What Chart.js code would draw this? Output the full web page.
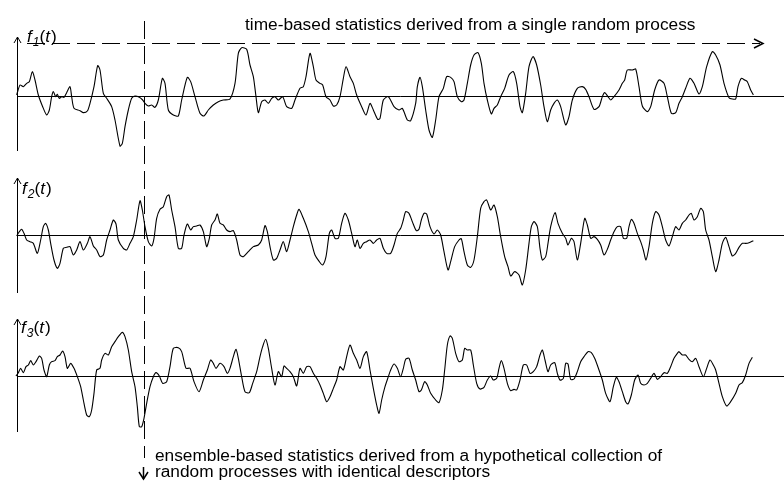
<!DOCTYPE html>
<html>
<head>
<meta charset="utf-8">
<script src="https://cdn.jsdelivr.net/npm/chart.js@4/dist/chart.umd.min.js"></script>
<style>
html,body{margin:0;padding:0;background:#fff;}
#c{display:block;}
</style>
</head>
<body>
<canvas id="c" width="784" height="481"></canvas>
<script>
// ---- time samples and values (arbitrary units) ----
const t1 = [50,60,70,80,88,97,105,115,128,140,148,155,160,167,172,178,185,192,200,210,215,222,240,250,262,270,282,293,300,310,320,335,345,360,367,375,385,395,405,418,428,435,445,455,465,475,487,495,505,520,535,545,562,572,585,600,612,625,640,655,670,690,705,715,725,740,750,760,768,775,785,795,805,815,825,835,848,860,875,885,900,910,918,930,940,948,960,968,978,990,1000,1010,1020,1030,1038,1050,1060,1070,1085,1098,1110,1120,1133,1140,1150,1165,1182,1197,1207,1222,1232,1247,1252,1260,1267,1277,1287,1297,1307,1317,1330,1340,1352,1362,1372,1384,1392,1402,1412,1422,1434,1444,1452,1462,1474,1482,1492,1502,1514,1527,1540,1550,1560,1567,1577,1587,1599,1610,1622,1632,1642,1652,1662,1672,1682,1697,1707,1717,1732,1747,1757,1767,1782,1797,1807,1814,1824,1832,1842,1857,1867,1874,1882,1897,1907,1917,1927,1942,1952,1964,1977,1992,2002,2014,2027,2037,2047,2057,2070,2082,2097,2107,2120,2137,2147,2160,2172,2187,2197,2207,2214,2224,2234,2242,2252,2260];
const f1 = [2,32,27,37,42,72,47,2,-33,-58,-43,-3,12,-3,4,-8,-3,-5,9,27,-3,-38,-45,-51,-46,-23,27,90,77,7,-8,-33,-73,-151,-143,-93,-43,-8,-1,-5,-13,-23,-31,-28,-35,-13,52,37,-43,-58,-61,-13,55,42,-3,-53,-61,-43,-28,-18,-13,-10,37,127,144,139,92,57,-3,-51,-18,-13,-23,-8,-3,-13,-3,-33,-38,-13,22,27,57,127,87,47,37,32,-3,-13,-31,-28,-3,52,87,57,37,2,-33,-58,-23,-43,-71,-68,-13,-3,-33,-43,-38,-73,-75,-23,27,55,27,-43,-103,-125,-73,-3,22,57,55,42,-3,-18,-13,37,92,122,129,97,37,-13,-55,-38,-28,-3,22,62,72,37,-33,-51,7,87,117,92,32,-33,-78,-43,-23,-13,-33,-88,-63,-13,22,27,19,-3,-41,-33,-3,9,-3,-13,-3,17,37,47,77,77,80,27,-31,-48,-33,17,47,37,-3,-53,-51,-23,-3,22,52,37,5,27,87,132,122,92,37,-6,-10,-10,27,52,47,42,17,2];

const t2 = [50,58,65,72,80,90,100,112,122,130,137,145,152,162,172,180,190,200,210,220,230,240,250,262,270,280,290,300,310,320,330,340,348,355,370,380,390,400,410,420,427,435,445,455,462,470,480,490,500,507,515,525,535,545,552,562,572,580,590,600,610,620,628,635,645,652,660,670,680,690,700,710,720,730,745,760,775,785,795,802,810,820,830,840,850,860,870,880,890,897,910,925,935,945,958,968,978,988,995,1005,1015,1025,1035,1045,1055,1065,1072,1080,1090,1100,1110,1120,1130,1140,1150,1160,1172,1182,1192,1202,1210,1217,1227,1237,1249,1257,1264,1272,1280,1290,1302,1312,1322,1332,1344,1352,1364,1377,1384,1392,1402,1412,1422,1432,1442,1452,1460,1472,1482,1492,1502,1514,1524,1532,1544,1557,1567,1577,1587,1594,1602,1612,1620,1627,1637,1644,1652,1665,1674,1687,1697,1704,1714,1722,1732,1742,1754,1762,1772,1782,1792,1802,1812,1822,1832,1842,1852,1862,1870,1880,1887,1894,1902,1912,1922,1930,1938,1947,1957,1967,1977,1987,1997,2007,2017,2027,2037,2047,2057,2067,2074,2082,2092,2102,2110,2117,2127,2137,2147,2157,2167,2177,2187,2197,2207,2217,2227,2237,2247,2260];
const f2 = [-2,11,18,6,-14,-19,-24,-54,-14,26,36,16,-24,-74,-99,-84,-39,-36,-34,-59,-44,-19,-44,-24,-4,-32,-44,-64,-59,-14,16,46,34,-14,-39,-44,-24,-4,46,104,76,26,-19,-32,-9,51,78,86,116,121,76,26,-39,-39,1,34,16,26,28,31,11,-34,-9,31,46,64,36,31,16,11,14,-14,-59,-64,-49,-34,-29,-14,29,11,-34,-74,-69,-44,-19,-49,-14,26,61,78,51,11,-24,-59,-79,-89,-64,6,16,-9,-9,36,66,46,6,-34,-14,-39,-24,-19,-14,-24,-14,-9,-39,-54,-54,-29,6,21,46,71,66,41,14,18,46,66,64,26,4,16,1,-49,-104,-79,-34,-14,-10,-49,-89,-96,-74,-4,81,101,106,76,91,56,-4,-64,-94,-122,-109,-119,-149,-104,-24,26,41,26,-39,-74,-64,-24,26,68,36,6,-9,-29,-9,-19,-74,-24,51,31,-9,-4,-12,-29,-59,-42,-14,11,26,26,-9,-9,26,48,36,6,-19,-44,-74,-34,36,71,61,26,-14,-32,-4,26,16,36,46,61,66,46,56,81,71,16,-14,-64,-109,-74,-24,-6,-34,-62,-54,-36,-24,-24,-22,-16];

const t3 = [48,55,62,70,78,85,92,100,108,118,125,132,140,148,155,165,172,180,188,195,202,212,222,232,242,250,260,268,275,282,290,300,305,315,325,335,345,355,367,375,385,395,405,412,418,425,432,440,450,460,468,478,488,500,510,520,535,545,558,570,582,597,610,622,632,640,648,660,672,682,690,700,708,715,725,735,748,758,770,780,788,797,805,815,825,835,845,852,860,870,880,890,900,910,920,930,940,950,960,970,980,990,1000,1010,1020,1030,1040,1050,1060,1070,1080,1090,1100,1110,1120,1130,1137,1145,1155,1165,1172,1182,1192,1202,1210,1217,1227,1237,1247,1257,1264,1274,1282,1292,1307,1317,1327,1334,1342,1350,1357,1367,1377,1387,1394,1402,1412,1420,1430,1440,1452,1462,1472,1480,1490,1497,1504,1512,1522,1532,1542,1550,1560,1570,1580,1590,1600,1610,1620,1627,1635,1644,1652,1664,1672,1680,1690,1697,1704,1712,1722,1732,1742,1752,1764,1774,1784,1797,1807,1817,1830,1840,1849,1857,1867,1877,1884,1894,1904,1914,1922,1932,1942,1952,1962,1972,1982,1992,2002,2012,2022,2032,2037,2047,2057,2067,2077,2087,2097,2110,2120,2130,2140,2147,2157,2167,2180,2192,2207,2217,2227,2237,2247,2257];
const f3 = [1,11,24,11,29,34,47,34,44,61,54,19,-1,34,44,47,59,64,76,59,24,39,24,-1,-31,-71,-116,-121,-101,-51,19,24,49,69,64,89,104,119,132,119,79,14,-31,-91,-151,-151,-126,-81,-31,-1,11,1,-21,-16,29,84,86,74,24,24,-16,-46,-11,19,49,39,24,39,29,9,24,59,81,54,-1,-46,-49,-21,14,59,89,111,84,24,-26,14,-1,31,24,14,-1,-29,24,9,29,29,9,-6,-26,-51,-76,-61,-36,-11,29,19,59,94,69,49,24,59,74,19,-36,-86,-111,-71,-31,-1,19,37,24,-1,24,51,54,19,-11,-46,-41,-16,-26,-51,-71,-79,-41,19,94,121,114,69,44,49,84,79,79,34,-21,-38,-33,-11,1,-11,-6,24,47,24,-21,-43,-39,-41,-11,34,34,9,14,29,64,79,49,14,34,41,9,-11,-6,39,37,-9,-8,14,44,59,74,71,54,19,-11,-51,-76,-31,-3,-16,-46,-76,-83,-56,-11,4,-21,-26,-21,-6,9,-9,-1,11,9,29,54,69,74,64,64,51,44,54,29,-1,24,49,34,19,-21,-61,-89,-76,-51,-26,-19,4,39,57];

// ---- text ----
const seriesNames = ['1','2','3'];
const timeText = 'time-based statistics derived from a single random process';
const ensembleText = ['ensemble-based statistics derived from a hypothetical collection of',
                      'random processes with identical descriptors'];

const pts = (t, v) => t.map((x, i) => ({x, y: v[i]}));
const FONT = '"Liberation Sans", Arial, Helvetica, sans-serif';
const FS = 17.3;

const annot = {
  id: 'annot',
  afterDatasetsDraw(chart) {
    const ctx = chart.ctx;
    const xs = chart.scales.x;
    const ax = Math.round(xs.getPixelForValue(50)) + 0.5;
    const W = chart.width;
    ctx.save();
    ctx.strokeStyle = '#000';
    ctx.fillStyle = '#000';
    ctx.lineWidth = 1;
    const seg = (x1, y1, x2, y2) => { ctx.beginPath(); ctx.moveTo(x1, y1); ctx.lineTo(x2, y2); ctx.stroke(); };
    const tips = [37, 178, 319];
    const bots = [151, 293, 432];
    ['y1','y2','y3'].forEach((id, i) => {
      const s = chart.scales[id];
      const y0 = Math.round(s.getPixelForValue(0)) + 0.5;
      seg(ax, y0, W, y0);
      seg(ax, bots[i], ax, tips[i]);
      ctx.beginPath();
      ctx.moveTo(ax - 3.5, tips[i] + 6); ctx.lineTo(ax, tips[i]); ctx.lineTo(ax + 3.5, tips[i] + 6);
      ctx.stroke();
    });
    const labelPos = [[27, 42], [22, 194], [21, 333]];
    labelPos.forEach(([x, y], i) => {
      ctx.textBaseline = 'alphabetic';
      ctx.textAlign = 'left';
      ctx.font = 'italic ' + FS + 'px ' + FONT;
      ctx.fillText('f', x, y);
      x += ctx.measureText('f').width + 1;
      ctx.font = 'italic 12px ' + FONT;
      ctx.fillText(seriesNames[i], x, y + 4);
      x += ctx.measureText(seriesNames[i]).width;
      ctx.font = FS + 'px ' + FONT;
      ctx.fillText('(', x, y);
      x += ctx.measureText('(').width;
      ctx.font = 'italic ' + FS + 'px ' + FONT;
      ctx.fillText('t', x, y);
      x += ctx.measureText('t').width + 1;
      ctx.font = FS + 'px ' + FONT;
      ctx.fillText(')', x, y);
    });
    ctx.setLineDash([18, 7]);
    seg(27, 43.5, 760, 43.5);
    seg(144.5, 21, 144.5, 458);
    ctx.setLineDash([]);
    ctx.lineWidth = 1.5;
    ctx.beginPath();
    ctx.moveTo(754, 39); ctx.lineTo(763, 43.5); ctx.lineTo(754, 48); ctx.stroke();
    ctx.beginPath();
    ctx.moveTo(139, 472); ctx.lineTo(143.5, 479); ctx.lineTo(148, 472); ctx.stroke();
    seg(143.5, 467, 143.5, 479);
    ctx.font = FS + 'px ' + FONT;
    ctx.fillText(timeText, 245, 30);
    ctx.fillText(ensembleText[0], 155, 461);
    ctx.fillText(ensembleText[1], 155, 477);
    ctx.restore();
  }
};

const ds = (data, axis) => ({
  data, yAxisID: axis, borderColor: '#000', borderWidth: 1.1,
  pointRadius: 0, tension: 0.25, fill: false
});

new Chart(document.getElementById('c'), {
  type: 'line',
  data: { datasets: [ds(pts(t1, f1), 'y1'), ds(pts(t2, f2), 'y2'), ds(pts(t3, f3), 'y3')] },
  options: {
    responsive: false, animation: false, devicePixelRatio: 1,
    layout: { padding: 0 },
    plugins: { legend: { display: false }, tooltip: { enabled: false } },
    scales: {
      x: { type: 'linear', min: 0, max: 2352, display: false },
      y1: { type: 'linear', min: -1156, max: 287, display: false },
      y2: { type: 'linear', min: -737, max: 706, display: false },
      y3: { type: 'linear', min: -314, max: 1129, display: false }
    }
  },
  plugins: [annot]
});
</script>
</body>
</html>
